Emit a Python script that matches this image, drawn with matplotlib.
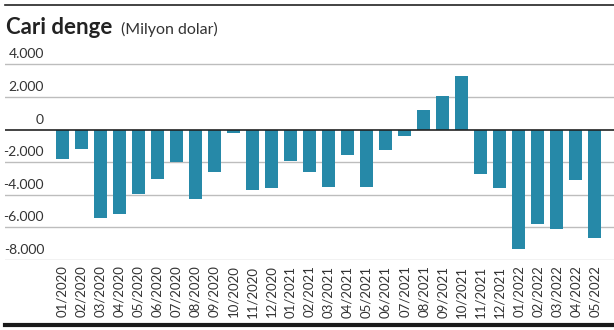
import matplotlib.pyplot as plt
from matplotlib.lines import Line2D

plt.rcParams['font.family'] = ['Lato', 'DejaVu Sans']

# aylik cari denge, milyon dolar
months = ['01/2020', '02/2020', '03/2020', '04/2020', '05/2020', '06/2020',
          '07/2020', '08/2020', '09/2020', '10/2020', '11/2020', '12/2020',
          '01/2021', '02/2021', '03/2021', '04/2021', '05/2021', '06/2021',
          '07/2021', '08/2021', '09/2021', '10/2021', '11/2021', '12/2021',
          '01/2022', '02/2022', '03/2022', '04/2022', '05/2022']
values = [-1830, -1215, -5410, -5200, -3975, -3055, -2010, -4245, -2625, -235,
          -3710, -3570, -1910, -2590, -3510, -1585, -3510, -1240, -420, 1196,
          2055, 3280, -2750, -3570, -7350, -5780, -6085, -3080, -6640]
yticks = [4000, 2000, 0, -2000, -4000, -6000, -8000]

W, H = 614, 330
fig = plt.figure(figsize=(W / 100, H / 100), dpi=100)
bottom = 1 - 260 / H
top = 1 - 56.2 / H
ax = fig.add_axes([5 / W, bottom, 1 - 5 / W, top - bottom])

x = range(len(months))
ax.bar(x, values, width=0.68, color='#2689a8', zorder=2)

for v in yticks:
    if v == 0:
        ax.axhline(v, color='#222222', lw=1.2, zorder=3)
    else:
        ax.axhline(v, color='#bdbdbd', lw=1.0, zorder=1)
    ax.annotate(f'{v:,}'.replace(',', '.'), (-0.95, v), xytext=(0, 4),
                textcoords='offset pixels', ha='right', va='bottom',
                fontsize=10, color='#333333')

ax.set_xlim(-3, 29)
ax.set_ylim(-8000, 4500)
ax.set_xticks(list(x))
ax.set_xticklabels(months, rotation=90, fontsize=9.5, color='#333333')
ax.tick_params(axis='x', length=0, pad=4)
ax.set_yticks([])
for s in ax.spines.values():
    s.set_visible(False)

# cizgiler ust ve alt
fig.add_artist(Line2D([5 / W, 1], [1 - 5 / H, 1 - 5 / H], color='#222222', lw=1.2))
fig.add_artist(Line2D([5 / W, 1], [1 - 325 / H, 1 - 325 / H], color='#1a1a1a', lw=3))

fig.text(6 / W, 1 - 34.3 / H, 'Cari denge', fontsize=16, fontweight='bold',
         color='#222222', va='baseline', ha='left')
fig.text(121 / W, 1 - 34.3 / H, '(Milyon dolar)', fontsize=11.5,
         color='#333333', va='baseline', ha='left')

fig.savefig('out.png', dpi=100)
